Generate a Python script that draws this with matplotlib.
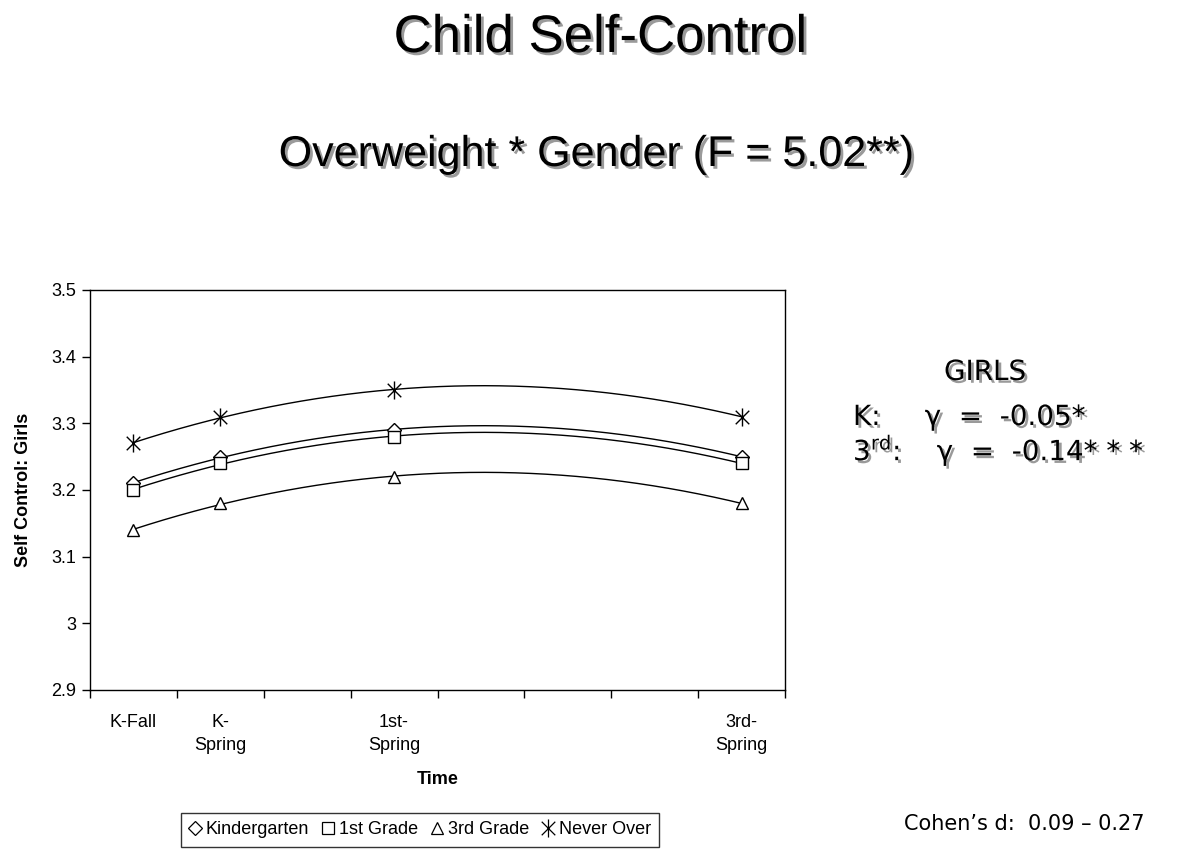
import numpy as np
import matplotlib
matplotlib.use("Agg")
import matplotlib.pyplot as plt
import matplotlib.patheffects as pe
from matplotlib.lines import Line2D
from matplotlib.path import Path

# data
times = [0, 1, 3, 7]
tick_labels = ["K-Fall", "K-\nSpring", "1st-\nSpring", "3rd-\nSpring"]
kindergarten = [3.21, 3.25, 3.29, 3.25]
first_grade = [3.20, 3.24, 3.28, 3.24]
third_grade = [3.14, 3.18, 3.22, 3.18]
never_over = [3.27, 3.31, 3.35, 3.31]
series_names = ["Kindergarten", "1st Grade", "3rd Grade", "Never Over"]

W, H = 1182, 852
ARIAL = ["Liberation Sans", "DejaVu Sans"]
TAHOMA = ["DejaVu Sans"]
shadow = [pe.SimplePatchShadow(offset=(2, -2), shadow_rgbFace="#9a9a9a", alpha=1.0), pe.Normal()]


def px(x, y):
    return x / W, 1 - y / H


# Excel style asterisk: an X with a vertical bar through it
star = Path([(0, -1), (0, 1), (-0.75, -0.75), (0.75, 0.75), (-0.75, 0.75), (0.75, -0.75)],
            [Path.MOVETO, Path.LINETO, Path.MOVETO, Path.LINETO, Path.MOVETO, Path.LINETO])

fig = plt.figure(figsize=(W / 100, H / 100), dpi=100)
ax = fig.add_axes([90 / W, 1 - 690 / H, (785 - 90) / W, (690 - 290) / H])

markers = ["D", "s", "^", star]
msizes = [7, 8, 9, 13]
all_series = [kindergarten, first_grade, third_grade, never_over]

fine = np.linspace(times[0], times[-1], 200)
for vals, m, ms in zip(all_series, markers, msizes):
    coef = np.polyfit(times, vals, 2)
    ax.plot(fine, np.polyval(coef, fine), color="black", lw=1.0, zorder=2)
    ax.plot(times, vals, linestyle="none", marker=m, ms=ms, mfc="white",
            mec="black", mew=1.0, zorder=3)

ax.set_xlim(-0.5, 7.5)
ax.set_ylim(2.9, 3.5)
ax.set_yticks(np.arange(2.9, 3.51, 0.1))
ax.set_yticklabels(["2.9", "3", "3.1", "3.2", "3.3", "3.4", "3.5"], family=ARIAL, fontsize=13)
ax.set_xticks(np.arange(-0.5, 7.6, 1.0))
ax.set_xticklabels([])
ax.set_xticks(times, minor=True)
ax.set_xticklabels(tick_labels, minor=True, family=ARIAL, fontsize=13, linespacing=1.5)
ax.tick_params(axis="x", which="major", direction="out", length=6, width=1)
ax.tick_params(axis="x", which="minor", length=0, pad=17)
ax.tick_params(axis="y", direction="out", length=6, width=1, pad=4)
for s in ax.spines.values():
    s.set_color("black")
    s.set_linewidth(1.0)

ax.set_xlabel("Time", family=ARIAL, fontsize=13, fontweight="bold", labelpad=12)
ax.set_ylabel("Self Control: Girls", family=ARIAL, fontsize=13, fontweight="bold", labelpad=14)

handles = [Line2D([], [], linestyle="none", marker=m, ms=ms * 1.0, mfc="white",
                  mec="black", mew=0.9) for m, ms in zip(markers, msizes)]
leg = fig.legend(handles, series_names, loc="center", bbox_to_anchor=px(420, 830),
                 ncol=4, frameon=True, fancybox=False, edgecolor="black",
                 handlelength=0.7, handletextpad=0.25, columnspacing=0.7,
                 borderpad=0.45, borderaxespad=0, prop={"family": ARIAL, "size": 13})
leg.get_frame().set_linewidth(1.0)

t = fig.text(*px(600, 38), "Child Self-Control", ha="center", va="center",
             family=ARIAL, fontsize=38)
t.set_path_effects(shadow)
t = fig.text(*px(596, 155), "Overweight * Gender (F = 5.02**)", ha="center",
             va="center", family=ARIAL, fontsize=31)
t.set_path_effects(shadow)

t = fig.text(*px(985, 372), "GIRLS", ha="center", va="center", family=TAHOMA, fontsize=20)
t.set_path_effects(shadow)
t = fig.text(*px(853, 417), "K:     \u03b3  =  -0.05*", ha="left", va="center",
             family=TAHOMA, fontsize=20)
t.set_path_effects(shadow)
t = fig.text(*px(853, 450), "3$^{\\mathregular{rd}}$:    \u03b3  =  -0.14* * *", ha="left",
             va="center", family=TAHOMA, fontsize=20)
t.set_path_effects(shadow)

fig.text(*px(1024, 824), "Cohen\u2019s d:  0.09 \u2013 0.27", ha="center", va="center",
         family=TAHOMA, fontsize=15)

fig.savefig("out.png", dpi=100, facecolor="white")
